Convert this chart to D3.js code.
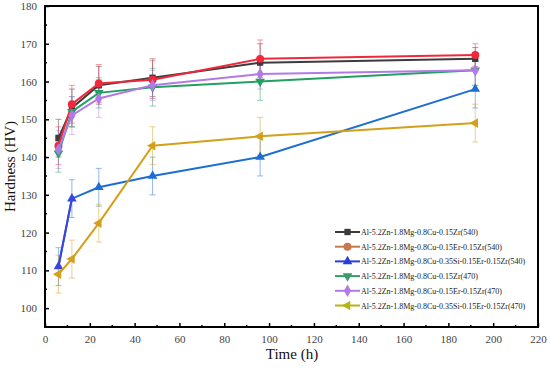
<!DOCTYPE html>
<html><head><meta charset="utf-8">
<script src="https://cdn.jsdelivr.net/npm/d3@7"></script>
<style>body{margin:0;background:#fff}svg{display:block}</style>
</head><body>
<svg id="c" width="550" height="370"></svg>
<script>
const times = [6, 12, 24, 48, 96, 192];
const seriesNames = [
  "Al-5.2Zn-1.8Mg-0.8Cu-0.15Zr(540)",
  "Al-5.2Zn-1.8Mg-0.8Cu-0.15Er-0.15Zr(540)",
  "Al-5.2Zn-1.8Mg-0.8Cu-0.35Si-0.15Er-0.15Zr(540)",
  "Al-5.2Zn-1.8Mg-0.8Cu-0.15Zr(470)",
  "Al-5.2Zn-1.8Mg-0.8Cu-0.15Er-0.15Zr(470)",
  "Al-5.2Zn-1.8Mg-0.8Cu-0.35Si-0.15Er-0.15Zr(470)"
];
const zr540 = [145, 153, 159, 161, 165, 166];
const er540 = [143, 154, 159.5, 160.5, 166, 167];
const si540 = [111, 129, 132, 135, 140, 158];
const zr470 = [141, 152, 157, 158.5, 160, 163];
const er470 = [142, 151, 155.5, 159, 162, 163];
const si470 = [109, 113, 122.5, 143, 145.5, 149];
const errZr540 = [5, 5, 5, 5, 5, 3];
const errEr540 = [5, 5, 5, 5, 5, 3];
const errSi540 = [5, 5, 5, 5, 5, 5];
const errZr470 = [5, 4, 4, 5, 5, 4];
const errEr470 = [5, 5, 5, 4, 4, 4];
const errSi470 = [5, 5, 5, 5, 5, 5];
const xTicks = [0, 20, 40, 60, 80, 100, 120, 140, 160, 180, 200, 220];
const yTicks = [100, 110, 120, 130, 140, 150, 160, 170, 180];

const styles = [
  {color:"#3c3c3c", legColor:"#3c3c3c", sym:d3.symbolSquare, size:40, rot:0},
  {color:"#f0283c", legColor:"#c87850", sym:d3.symbolCircle, size:50, rot:0},
  {color:"#1e6ed2", legColor:"#2a3ee0", sym:d3.symbolTriangle, size:40, rot:0},
  {color:"#22a060", legColor:"#3a9a6a", sym:d3.symbolTriangle, size:40, rot:180},
  {color:"#b27ae6", legColor:"#b27ae6", sym:d3.symbolDiamond, size:45, rot:0},
  {color:"#d4a01a", legColor:"#b4b414", sym:d3.symbolTriangle, size:40, rot:-90}
];
const vals = [zr540, er540, si540, zr470, er470, si470];
const errs = [errZr540, errEr540, errSi540, errZr470, errEr470, errSi470];

const svg = d3.select("#c");
const L = 45, R = 538, T = 6, B = 327;
const x = d3.scaleLinear().domain([0, 220]).range([L, R]);
const y = d3.scaleLinear().domain([95, 180]).range([B, T]);
const font = "'Liberation Serif','Times New Roman',serif";

// error bars
vals.forEach((v, i) => {
  const g = svg.append("g").attr("stroke", styles[i].color).attr("stroke-width", 0.8).attr("opacity", 0.6);
  v.forEach((d, j) => {
    const e = errs[i][j], cx = x(times[j]);
    g.append("line").attr("x1", cx).attr("x2", cx).attr("y1", y(d - e)).attr("y2", y(d + e));
    g.append("line").attr("x1", cx - 3).attr("x2", cx + 3).attr("y1", y(d - e)).attr("y2", y(d - e));
    g.append("line").attr("x1", cx - 3).attr("x2", cx + 3).attr("y1", y(d + e)).attr("y2", y(d + e));
  });
});

// lines + markers
const line = d3.line().x((d, j) => x(times[j])).y(d => y(d));
vals.forEach((v, i) => {
  svg.append("path").datum(v).attr("d", line).attr("fill", "none")
    .attr("stroke", styles[i].color).attr("stroke-width", 2);
  if (i === 2) {
    // early segments of this series appear violet-blue in the reference
    svg.append("path").datum(v.slice(0, 2)).attr("d", line).attr("fill", "none")
      .attr("stroke", "#3c44e0").attr("stroke-width", 2);
  }
  svg.append("g").selectAll("path").data(v).join("path")
    .attr("d", d3.symbol().type(styles[i].sym).size(styles[i].size))
    .attr("transform", (d, j) => `translate(${x(times[j])},${y(d)}) rotate(${styles[i].rot})`)
    .attr("fill", (d, j) => (i === 2 && j < 2) ? "#3c44e0" : styles[i].color);
});

// axes
const xAxis = d3.axisBottom(x).tickValues(xTicks).tickSize(-4).tickPadding(8);
const gx = svg.append("g").attr("transform", `translate(0,${B})`).call(xAxis);
const yAxis = d3.axisLeft(y).tickValues(yTicks).tickSize(-4).tickPadding(8);
const gy = svg.append("g").attr("transform", `translate(${L},0)`).call(yAxis);
[gx, gy].forEach(g => {
  g.select(".domain").remove();
  g.selectAll("line").attr("stroke", "#000").attr("stroke-width", 1.5);
  g.selectAll("text").attr("font-family", font).attr("font-size", 11).attr("fill", "#444");
});
// minor ticks
d3.range(10, 220, 20).forEach(t => {
  svg.append("line").attr("x1", x(t)).attr("x2", x(t)).attr("y1", B).attr("y2", B - 2).attr("stroke", "#000").attr("stroke-width", 1.5);
});
d3.range(95, 180, 10).forEach(t => {
  svg.append("line").attr("x1", L).attr("x2", L + 2).attr("y1", y(t)).attr("y2", y(t)).attr("stroke", "#000").attr("stroke-width", 1.5);
});

// frame
svg.append("rect").attr("x", L).attr("y", T).attr("width", R - L).attr("height", B - T)
  .attr("fill", "none").attr("stroke", "#000").attr("stroke-width", 2);

// titles
svg.append("text").attr("x", 292).attr("y", 359).attr("text-anchor", "middle")
  .attr("font-family", font).attr("font-size", 15).attr("fill", "#111").text("Time (h)");
svg.append("text").attr("transform", `translate(15,${(T + B) / 2}) rotate(-90)`).attr("text-anchor", "middle")
  .attr("font-family", font).attr("font-size", 15).attr("fill", "#111").text("Hardness (HV)");

// legend
const lg = svg.append("g").attr("transform", "translate(335,232)");
seriesNames.forEach((n, i) => {
  const ly = i * 14.7;
  lg.append("line").attr("x1", 0).attr("x2", 25).attr("y1", ly).attr("y2", ly)
    .attr("stroke", styles[i].legColor).attr("stroke-width", 2);
  lg.append("path").attr("d", d3.symbol().type(styles[i].sym).size(styles[i].size))
    .attr("transform", `translate(12.5,${ly}) rotate(${styles[i].rot})`).attr("fill", styles[i].legColor);
  lg.append("text").attr("x", 26).attr("y", ly + 3).attr("font-family", font).attr("font-size", 8)
    .attr("fill", "#222").text(n);
});
</script>
</body></html>
